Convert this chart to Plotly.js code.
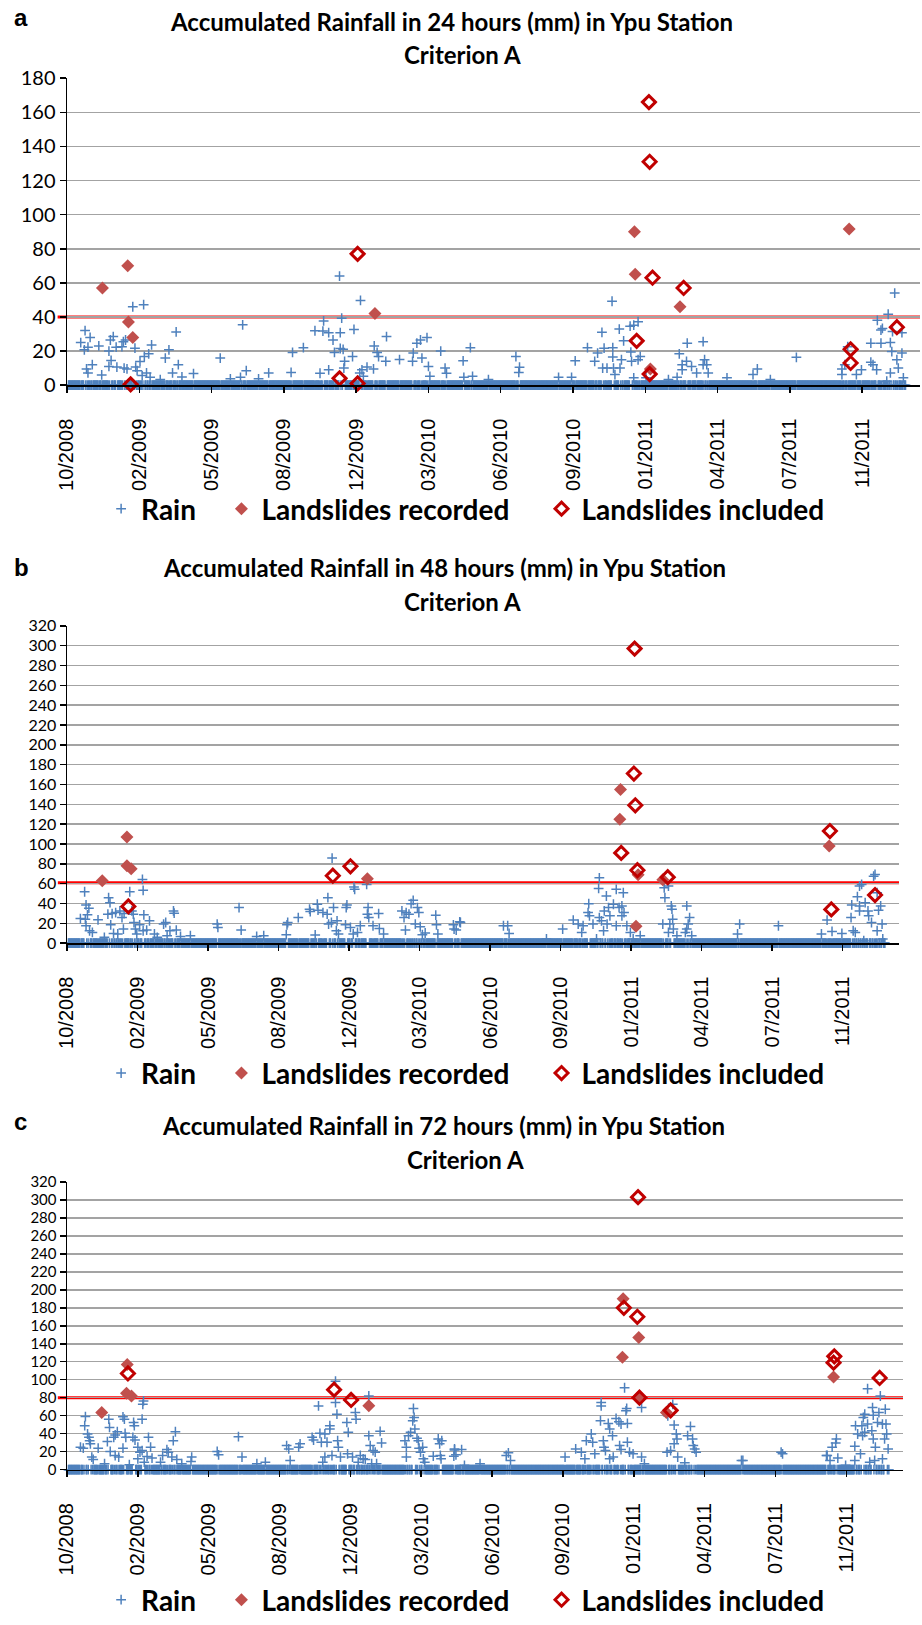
<!DOCTYPE html>
<html>
<head>
<meta charset="utf-8">
<script src="https://cdn.plot.ly/plotly-3.0.1.min.js"></script>
<style>
  html, body { margin: 0; padding: 0; background: #ffffff; overflow: hidden; }
  #chart { width: 922px; height: 1625px; }
</style>
</head>
<body>
<div id="chart"></div>
<script>
// ---------------- DATA (days counted from the first axis tick, 10/2008) ----------------
const tickDays = [0, 100, 200, 300, 400, 500, 600, 700, 800, 900, 1000, 1100];
const tickLabels = ['10/2008', '02/2009', '05/2009', '08/2009', '12/2009', '03/2010',
                    '06/2010', '09/2010', '01/2011', '04/2011', '07/2011', '11/2011'];
const recordStart = 2;     // first day of the rain record
const recordEnd = 1160;    // last day of the rain record (days not listed below are dry: 0 mm)

const titles = ['Accumulated Rainfall in 24 hours (mm) in Ypu Station',
                'Accumulated Rainfall in 48 hours (mm) in Ypu Station',
                'Accumulated Rainfall in 72 hours (mm) in Ypu Station'];
const subtitle = 'Criterion A';
const panelLetters = ['a', 'b', 'c'];
const seriesNames = ['Rain', 'Landslides recorded', 'Landslides included'];
const thresholds = [40, 61, 80];
const yMax = [180, 320, 320];

// ---- 24 h ----
const rain24Day = [19,24,25,27,29,29,32,35,44,48,58,58,60,61,64,68,69,76,78,79,81,83,91,94,95,97,101,104,106,107,110,113,115,117,129,136,141,146,151,154,159,175,212,226,240,243,248,265,279,310,312,327,343,350,354,355,362,362,368,370,377,378,378,380,382,383,384,395,397,405,406,408,410,415,424,425,429,431,441,442,460,478,479,484,489,491,498,500,502,517,523,525,548,549,558,561,583,621,625,626,680,698,703,720,730,734,740,741,743,747,754,755,755,756,758,764,765,767,770,779,780,781,784,784,790,790,793,801,832,844,847,851,851,857,858,864,871,880,880,882,885,887,913,949,955,973,1009,1072,1072,1076,1080,1092,1099,1112,1112,1115,1120,1121,1126,1126,1128,1134,1136,1139,1139,1141,1142,1145,1148,1150,1155,1155,1157];
const rain24Mm  = [25,20.7,32,9.5,22.3,7.2,28,12,23,6,20,11,26.5,14.5,28.5,22.3,10.6,22.6,25.5,10,26.5,9.5,46,21.7,10.6,8.5,13.9,5.6,47.2,16.8,7.2,18.4,4.6,23.6,3.3,15.9,20.7,7.2,31.2,12,4.8,6.8,15.9,3.7,4.6,35.4,8.5,3.7,7.2,7.5,19.2,22,31.9,7,31.7,37.7,30.8,9,26.5,19.2,64,21.5,30.8,39.3,21,10,14,16.8,32.7,7.2,49.7,9,5.2,10.6,9.5,23,19.2,16.8,14,28.5,15,14,18.8,24.6,26.5,15.9,27.9,11,5.2,20,10,7,14.3,4.6,22,5.2,3.3,16.8,7.5,10.5,4.6,4.6,14.3,22,14,18.8,31,10,21.7,10,49.2,22,16.5,10,6.2,32.9,10,14.9,26,34.6,19.4,14,35.2,4.3,37.2,14.9,16.8,4.3,3.3,4.6,18.4,12,9,14,24.6,11,7.2,25.5,12,14.9,12,7.2,4.3,6.2,9.5,3.3,16.3,9.5,6.2,12,22.6,6.2,9,13.5,24.6,12,9,38,32.3,24.6,33.3,2.3,41.6,25,7.2,19.7,31.4,54,14.9,10,30.8,18.8,4.3];
const recorded24Day = [49,84,85,91,426,785,786,807,848,1082];
const recorded24Mm  = [57,70,37,28,42,90,65,9.5,46,91.6];
const included24Day = [88,377,402,402,805,806,810,853,788,806,1084,1084,1148];
const included24Mm  = [0.5,4,77,1,166,131,63,57,26,6.5,21,13,34];

// ---- 48 h ----
const rain48Day = [19,25,26,27,27,29,31,32,36,44,53,58,59,61,62,64,66,69,72,75,78,80,81,89,92,94,95,97,99,103,107,108,109,108,113,117,124,128,137,140,142,146,151,152,155,161,175,213,214,244,247,269,279,311,312,313,328,344,345,352,355,356,363,369,370,371,375,376,378,382,383,385,395,396,397,402,406,407,408,412,416,425,426,427,428,434,442,443,449,475,478,480,481,485,488,491,494,497,499,501,504,508,523,524,526,548,549,552,557,558,619,625,627,680,703,718,725,730,732,739,740,741,746,751,754,755,755,758,761,762,765,766,768,770,775,779,779,783,787,787,789,790,794,799,803,813,845,847,848,853,853,855,857,858,859,860,865,877,879,879,881,883,886,951,954,1009,1070,1078,1085,1099,1112,1113,1115,1118,1121,1124,1124,1124,1127,1130,1132,1136,1137,1141,1144,1146,1149,1149,1151,1154,1156,1157];
const rain48Mm  = [24.8,51.8,24.2,38.5,17.5,28.5,35.2,12.5,10.8,23.5,5.8,29.2,45.8,40.8,18.5,29.8,9.8,30.8,9.2,32.5,25.8,14.2,29.8,51.8,32.5,29.2,20.8,14.2,9.2,18.5,64.2,53.2,28.5,12.5,13.2,22.5,9.2,5.8,19.2,20.8,7.5,12.5,32.5,30.2,13.2,6.8,7.5,19.2,15.8,35.8,13.2,6.8,7.5,8.5,18.5,20.8,25.8,34.2,31.8,8.2,39.2,33.2,30.8,29.2,45.8,19.2,20.8,85.8,35.8,12.5,22.5,9.2,18.5,35.8,38.5,15.8,9.2,56.5,54.2,10.8,17.5,59.2,29.2,35.8,25.8,17.5,29.8,14.8,9.2,32.5,25.8,13.2,30.8,29.2,39.8,43.2,19.2,35.8,30.8,16.5,8.5,10.2,28.2,18.5,9.2,18.5,14.2,13.2,21.5,20.8,17.5,17.5,9.8,4.2,14.2,23.2,19.2,10.8,17.5,30.8,39.8,27.5,19.2,4.2,55.2,65.8,25.8,22.5,12.5,32.5,47.5,19.2,35.8,27.5,39.2,54.2,17.5,35.8,37.5,27.5,50.8,30.8,17.5,10.8,4.2,7.5,19.2,55.8,45.8,57.5,10.8,19.2,37.5,34.2,24.2,14.2,7.5,10.8,37.5,14.2,19.2,25.8,7.5,9.2,19.2,17.5,9.2,23.2,11.8,9.8,25.8,38.5,12.5,10.8,46.8,57.5,32.5,37.5,59.2,2.5,40.8,32.5,27.5,20.8,67.5,69.2,50.8,12.5,33.2,37.5,19.2,4.2];
const recorded48Day = [50,85,85,91,426,785,784,810,807,845,1081];
const recorded48Mm  = [63,107,78,75,65,155,125,69,17,64,98];
const included48Day = [87,377,402,805,804,806,786,809,852,1082,1084,1146];
const included48Mm  = [37,68,77.5,297,171,139,91,73.5,66.5,113,34,48.5];

// ---- 72 h ----
const rain72Day = [19,23,25,26,29,31,32,33,35,37,44,53,57,59,60,61,66,68,68,71,73,79,79,81,82,83,88,93,94,95,96,100,100,103,106,106,107,108,109,113,115,118,120,132,135,141,143,148,150,153,155,162,175,176,212,214,242,247,268,280,310,313,315,327,329,346,348,355,357,359,361,364,364,367,371,371,374,379,379,381,382,383,386,395,396,397,403,407,408,411,414,418,421,426,426,428,430,432,435,437,442,444,477,479,479,482,485,488,489,490,491,494,496,497,499,502,503,505,517,524,526,527,528,529,547,547,549,546,557,561,583,620,623,626,703,718,726,731,733,740,742,745,753,754,754,757,758,760,764,766,766,770,771,775,779,780,782,782,787,789,790,791,791,794,799,811,811,815,847,848,852,855,857,857,860,861,862,872,876,880,883,884,886,888,952,954,1008,1010,1072,1073,1077,1080,1085,1086,1088,1099,1112,1112,1113,1116,1120,1122,1123,1124,1126,1126,1130,1130,1133,1136,1137,1138,1138,1140,1141,1144,1146,1148,1151,1151,1154,1155,1156,1157,1159];
const rain72Mm  = [25,23.9,48.9,59.1,39.7,36,32.3,28.7,14,11.4,23.9,6.6,31.2,56.2,47,20.2,36,38.6,15.8,42.2,14,58.8,23.9,56.2,40.4,36,5.5,36,52.5,48.9,33,25,12.1,19.5,56.2,21.3,72.7,76.4,8.4,14.7,36,25,12.9,8.4,15.8,22.4,19.5,14,32.3,42.2,11.4,6.6,9.2,14,20.2,16.5,36.7,14,6.6,8.4,26.8,23.1,10.3,25,28.7,36,33,70.9,40.4,30.5,8.4,39.7,14,30.5,48.9,45.2,15.8,98.4,74.6,61.7,32.3,25,14,52.5,17.6,41.5,14,63.5,56.2,8.4,15.8,12.1,11.4,81.9,37.8,26.8,6.6,21.3,19.5,6.6,42.6,29.8,32.3,25,14,37.8,41.5,54.4,68,58,45.2,35,32.3,23.9,19.5,25,12.1,8.4,15,34.2,28.7,15.8,12.1,32.3,23.1,22,16.5,15,22.4,4.8,6.6,15.8,18.7,10.3,14,23.1,19.5,12.1,32.3,39.7,30.5,17.6,54.4,74.6,70.9,32.3,25,21.3,51.4,45.2,12.1,37.8,14,56.9,53.3,26.8,50.7,22.4,91.1,65.4,68,51.4,30.5,19.5,17.6,69,14,6.6,19.5,59.9,21.3,72.7,28.7,49.6,39.7,34.2,14,7.7,37.8,48.1,34.2,26.8,23.1,19.5,10.3,10.3,19.5,17.6,15.8,15.8,10.3,25,29.8,34.2,12.9,4.8,10.3,26.1,48.9,39.7,17.6,48.9,37.8,58,61.7,41.5,90,50.7,8.4,43.3,69,60.6,34.2,10.3,25,52.5,63.5,81.9,50.7,12.1,34.2,67.2,50.7,39.7,23.1,6.6];
const recorded72Day = [49,85,84,91,426,785,784,807,807,846,1082];
const recorded72Mm  = [63.5,117,85,82,71,190,125,147,81,63.5,103];
const included72Day = [86,377,401,806,786,805,808,852,1083,1082,1147];
const included72Mm  = [107,89,77.5,303,180,170,80,66,126,119,102];

// ---------------- LAYOUT GEOMETRY ----------------
const W = 922, H = 1625;
const plotBoxes = [ // left, right, top, bottom in page pixels
  {l: 67, r: 920, t: 79,     b: 389},
  {l: 67, r: 899, t: 632,    b: 952.5},
  {l: 67, r: 903, t: 1193.6, b: 1484.3}
];
const titleY = [[22, 55], [573, 607], [1137, 1171]];
const titleX = [[451, 463], [444, 463], [443, 465]];
const letterY = [18, 573, 1133];
const legendY = [514, 1084, 1616];
const yTickSize = [20, 16, 15];
const legendPad = ['\u00a0\u00a0\u00a0', '\u00a0\u00a0\u00a0\u00a0', ''];

const rainSets = [[rain24Day, rain24Mm], [rain48Day, rain48Mm], [rain72Day, rain72Mm]];
const recSets  = [[recorded24Day, recorded24Mm], [recorded48Day, recorded48Mm], [recorded72Day, recorded72Mm]];
const incSets  = [[included24Day, included24Mm], [included48Day, included48Mm], [included72Day, included72Mm]];

function withDryDays(days, mm) {
  const wet = new Set(days.map(d => Math.round(d)));
  const xs = [], ys = [];
  for (let d = recordStart; d <= recordEnd; d++) {
    if (!wet.has(d)) { xs.push(d); ys.push(0); }
  }
  return [xs.concat(days), ys.concat(mm)];
}

const blue = '#4F81BD', brick = '#C0504D', darkRed = '#C00000';
const traces = [];
const layout = {
  width: W, height: H,
  margin: {l: 0, r: 0, t: 0, b: 0},
  paper_bgcolor: '#ffffff', plot_bgcolor: '#ffffff',
  showlegend: true,
  annotations: [], shapes: []
};

for (let i = 0; i < 3; i++) {
  const sfx = i === 0 ? '' : String(i + 1);
  const xName = 'x' + sfx, yName = 'y' + sfx;
  const legName = 'legend' + sfx;
  const box = plotBoxes[i];
  const [rx, ry] = withDryDays(rainSets[i][0], rainSets[i][1]);

  traces.push({
    type: 'scatter', mode: 'markers', name: seriesNames[0] + legendPad[0], x: rx, y: ry,
    xaxis: xName, yaxis: yName, legend: legName, cliponaxis: false, hoverinfo: 'skip',
    marker: {symbol: 'cross-thin', size: 7, color: blue, line: {color: blue, width: 1.5}}
  });
  traces.push({
    type: 'scatter', mode: 'markers', name: seriesNames[1] + legendPad[1], x: recSets[i][0], y: recSets[i][1],
    xaxis: xName, yaxis: yName, legend: legName, cliponaxis: false, hoverinfo: 'skip',
    marker: {symbol: 'diamond', size: 10, color: brick, line: {width: 0}}
  });
  traces.push({
    type: 'scatter', mode: 'markers', name: seriesNames[2], x: incSets[i][0], y: incSets[i][1],
    xaxis: xName, yaxis: yName, legend: legName, cliponaxis: false, hoverinfo: 'skip',
    marker: {symbol: 'diamond-open', size: 10, color: darkRed, line: {color: darkRed, width: 3}}
  });

  layout['xaxis' + sfx] = {
    domain: [box.l / W, box.r / W], anchor: yName,
    range: [0, 1180], tickmode: 'array', tickvals: tickDays, ticktext: tickLabels,
    tickangle: -90, ticks: 'outside', ticklen: 6, tickwidth: 1.5, tickcolor: '#000',
    showline: true, linecolor: '#000', linewidth: 1.5, showgrid: false, zeroline: false,
    ticklabelstandoff: 18,
    tickfont: {family: 'Liberation Sans, Arial, sans-serif', size: 20, color: '#000'},
    fixedrange: true
  };
  layout['yaxis' + sfx] = {
    domain: [1 - box.b / H, 1 - box.t / H], anchor: xName,
    range: [0, yMax[i]], tickmode: 'linear', tick0: 0, dtick: 20,
    ticks: 'outside', ticklen: 6, tickwidth: 1.5, tickcolor: '#000',
    showline: true, linecolor: '#000', linewidth: 1.5,
    showgrid: true, gridcolor: '#a3a3a3', gridwidth: 1.5, zeroline: false,
    tickfont: {family: 'Lato, sans-serif', size: yTickSize[i], color: '#000'},
    fixedrange: true
  };
  layout[legName] = {
    orientation: 'h', x: 0.505, xanchor: 'center', y: 1 - legendY[i] / H, yanchor: 'middle',
    font: {family: 'Lato, sans-serif', size: 28, weight: 700, color: '#000'},
    bgcolor: 'rgba(0,0,0,0)', itemsizing: 'trace'
  };
  layout.shapes.push({
    type: 'line', xref: xName + ' domain', yref: yName, x0: -0.011, x1: 1,
    y0: thresholds[i], y1: thresholds[i], layer: 'below',
    line: {color: '#FF0000', width: 3}
  });
  layout.annotations.push({
    text: titles[i], xref: 'paper', yref: 'paper', x: titleX[i][0] / W, y: 1 - titleY[i][0] / H,
    xanchor: 'center', yanchor: 'middle', showarrow: false,
    font: {family: 'Lato, sans-serif', size: 24, weight: 700, color: '#000'}
  });
  layout.annotations.push({
    text: subtitle, xref: 'paper', yref: 'paper', x: titleX[i][1] / W, y: 1 - titleY[i][1] / H,
    xanchor: 'center', yanchor: 'middle', showarrow: false,
    font: {family: 'Lato, sans-serif', size: 24, weight: 700, color: '#000'}
  });
  layout.annotations.push({
    text: panelLetters[i], xref: 'paper', yref: 'paper', x: 12 / W, y: 1 - letterY[i] / H,
    xanchor: 'left', yanchor: 'middle', showarrow: false,
    font: {family: 'Liberation Sans, Arial, sans-serif', size: 24, weight: 700, color: '#000'}
  });
}

Plotly.newPlot('chart', traces, layout, {displayModeBar: false, staticPlot: true});
</script>
</body>
</html>
